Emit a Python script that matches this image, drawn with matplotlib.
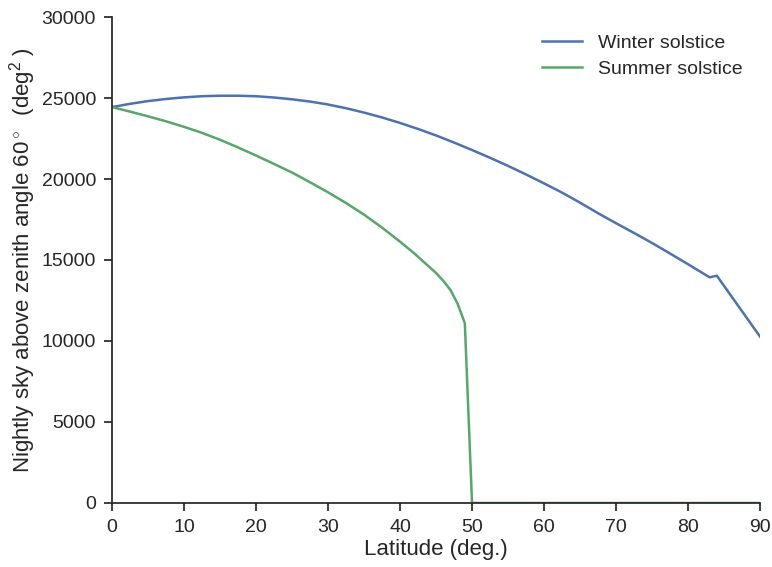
import matplotlib
matplotlib.use("Agg")
import matplotlib.pyplot as plt

# Data
winter_lat = [0, 2.5, 5, 7.5, 10, 12.5, 15, 17.5, 20, 22.5, 25, 27.5, 30, 32.5, 35, 37.5,
              40, 42.5, 45, 47.5, 50, 52.5, 55, 57.5, 60, 62.5, 65, 67.5, 70, 72.5,
              75, 77.5, 80, 83, 84, 90]
winter_sky = [24440, 24640, 24810, 24940, 25040, 25110, 25140, 25140, 25110, 25030,
              24920, 24780, 24600, 24370, 24100, 23800, 23460, 23090, 22690, 22250,
              21790, 21310, 20810, 20280, 19730, 19160, 18540, 17890, 17270, 16670,
              16050, 15400, 14740, 13930, 14030, 10270]

summer_lat = [0, 2.5, 5, 7.5, 10, 12.5, 15, 17.5, 20, 22.5, 25, 27.5, 30, 32.5, 35, 37.5,
              40, 42, 44, 45, 46, 47, 48, 49, 50, 60, 70, 80, 90]
summer_sky = [24440, 24160, 23870, 23560, 23220, 22850, 22420, 21950, 21450, 20930,
              20400, 19800, 19180, 18520, 17800, 17000, 16130, 15400, 14600, 14200,
              13720, 13150, 12300, 11100, 0, 0, 0, 0, 0]

x_ticks = [0, 10, 20, 30, 40, 50, 60, 70, 80, 90]
y_ticks = [0, 5000, 10000, 15000, 20000, 25000, 30000]

plt.rcParams['font.family'] = ['Liberation Sans', 'DejaVu Sans']
plt.rcParams['mathtext.fontset'] = 'custom'
plt.rcParams['mathtext.rm'] = 'Liberation Sans'
plt.rcParams['mathtext.it'] = 'Liberation Sans:italic'

text_color = '#262626'
fig = plt.figure(figsize=(7.72, 5.67), dpi=100)
ax = fig.add_axes([0.1451, 0.1129, 0.8394, 0.8571])

ax.plot(winter_lat, winter_sky, color='#4C72B0', lw=1.8, label='Winter solstice')
ax.plot(summer_lat, summer_sky, color='#55A868', lw=1.8, label='Summer solstice')

ax.set_xlim(0, 90)
ax.set_ylim(0, 30000)
ax.set_xticks(x_ticks)
ax.set_yticks(y_ticks)

for s in ['top', 'right']:
    ax.spines[s].set_visible(False)
for s in ['left', 'bottom']:
    ax.spines[s].set_color(text_color)
    ax.spines[s].set_linewidth(1.25)

ax.tick_params(direction='out', length=6, width=1.25, colors=text_color,
               labelsize=14, pad=5.5)

ax.set_xlabel('Latitude (deg.)', fontsize=16, color=text_color, labelpad=2)
ax.set_ylabel(r'Nightly sky above zenith angle 60$^\circ$  (deg$^2$ )',
              fontsize=16, color=text_color, labelpad=3)

leg = ax.legend(loc='upper right', frameon=False, fontsize=14,
                handlelength=2.1, borderaxespad=0.5, labelspacing=0.4)
for t in leg.get_texts():
    t.set_color(text_color)

fig.savefig('out.png', dpi=100)
